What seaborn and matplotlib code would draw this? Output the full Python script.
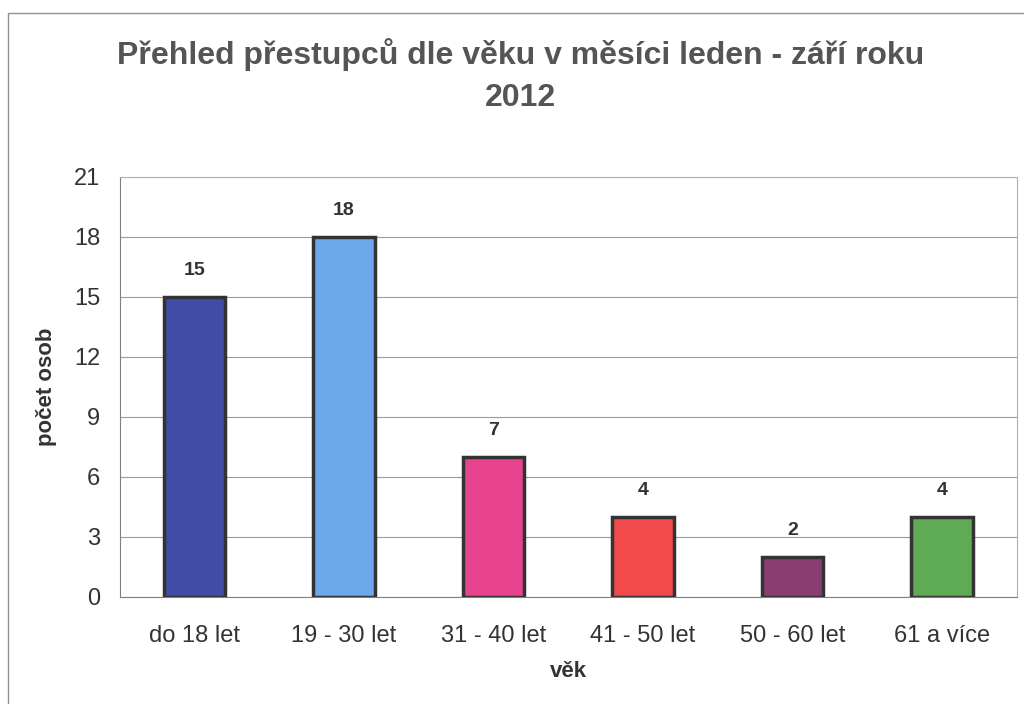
import matplotlib
matplotlib.use('Agg')
import matplotlib.pyplot as plt
import seaborn as sns
import pandas as pd
from matplotlib.patches import Rectangle

# data
categories = ['do 18 let', '19 - 30 let', '31 - 40 let', '41 - 50 let', '50 - 60 let', '61 a více']
counts = [15, 18, 7, 4, 2, 4]
bar_colors = ['#3f4da6', '#6ea8ec', '#e8438f', '#f24a4a', '#8a3d70', '#5fab55']
y_ticks = [0, 3, 6, 9, 12, 15, 18, 21]

sns.set_style('white')
plt.rcParams['font.family'] = ['Liberation Sans', 'DejaVu Sans']

df = pd.DataFrame({'vek': categories, 'pocet': counts})

fig = plt.figure(figsize=(10.24, 7.04), dpi=100)
ax = fig.add_axes([0.117, 0.152, 0.876, 0.597])

sns.barplot(data=df, x='vek', y='pocet', hue='vek', palette=bar_colors,
            legend=False, width=0.41, edgecolor='#333333', linewidth=2.5,
            saturation=1, ax=ax)

ax.set_ylim(0, 21)
ax.set_yticks(y_ticks)
ax.set_xlim(-0.5, len(categories) - 0.5)
ax.yaxis.grid(True, color='#9a9a9a', linewidth=0.8)
ax.set_axisbelow(True)

for spine in ['top', 'right']:
    ax.spines[spine].set_color('#b0b0b0')
    ax.spines[spine].set_linewidth(0.8)
for spine in ['left', 'bottom']:
    ax.spines[spine].set_color('#808080')
    ax.spines[spine].set_linewidth(0.8)

# category boundary ticks on x axis
ax.set_xticks(range(len(categories)))
ax.set_xticklabels(categories)
ax.set_xticks([i - 0.5 for i in range(len(categories) + 1)], minor=True)
ax.tick_params(axis='x', which='major', length=0, pad=20, labelsize=17, labelcolor='#333333')
ax.tick_params(axis='x', which='minor', length=6, color='#808080', direction='out')
ax.tick_params(axis='y', length=6, color='#808080', direction='out', labelsize=17,
               labelcolor='#333333', pad=8)

for i, v in enumerate(counts):
    ax.annotate(str(v), (i, v), xytext=(0, 13), textcoords='offset points',
                ha='center', va='bottom', fontsize=14, fontweight='bold', color='#333333')

ax.set_xlabel('věk', fontsize=16, fontweight='bold', color='#333333', labelpad=10)
ax.set_ylabel('počet osob', fontsize=16, fontweight='bold', color='#333333', labelpad=12)

fig.text(0.508, 0.893, 'Přehled přestupců dle věku v měsíci leden - září roku\n2012',
         ha='center', va='center', fontsize=23, fontweight='bold', color='#555555',
         linespacing=1.5)

# outer chart frame
fig.patches.append(Rectangle((0.008, -0.05), 1.1, 1.031, transform=fig.transFigure,
                             fill=False, edgecolor='#909090', linewidth=1.0))

fig.savefig('out.png', dpi=100)
